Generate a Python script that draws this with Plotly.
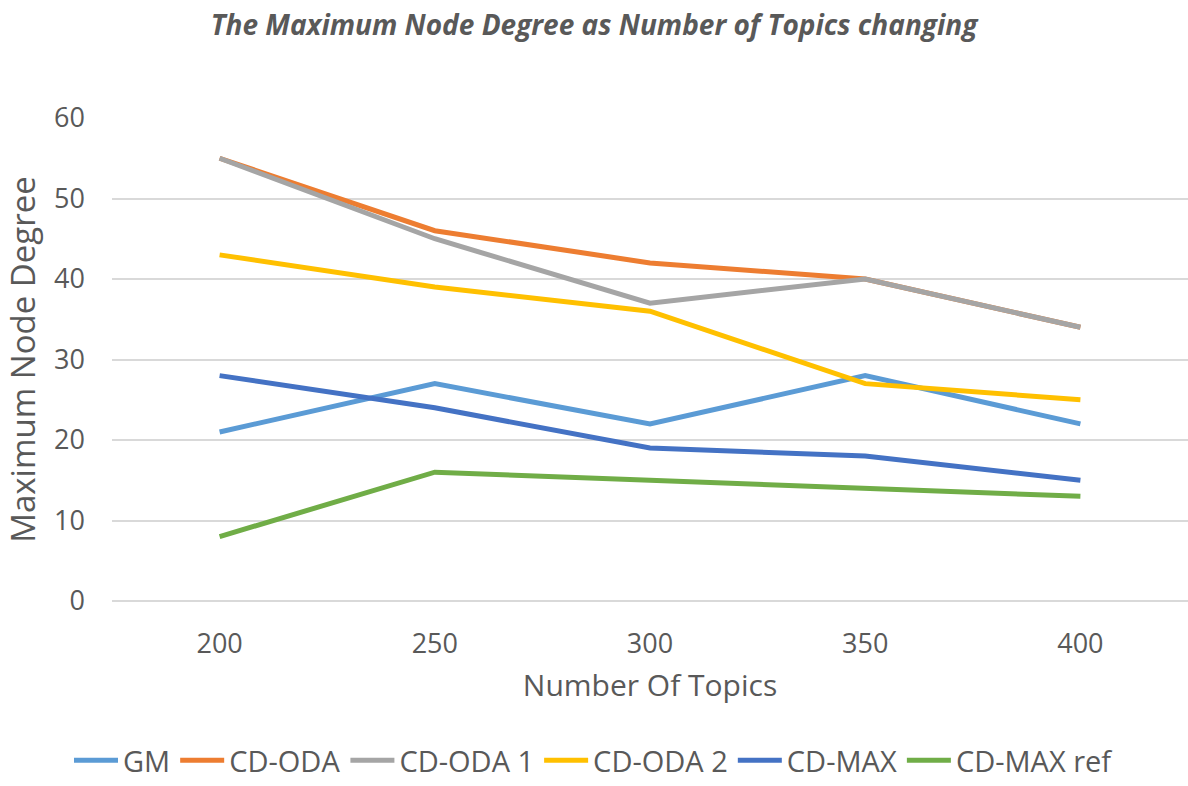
import plotly.graph_objects as go

topics = ["200", "250", "300", "350", "400"]
gm = [21, 27, 22, 28, 22]
cd_oda = [55, 46, 42, 40, 34]
cd_oda1 = [55, 45, 37, 40, 34]
cd_oda2 = [43, 39, 36, 27, 25]
cd_max = [28, 24, 19, 18, 15]
cd_max_ref = [8, 16, 15, 14, 13]

series = [
    ("GM", gm, "#5B9BD5"),
    ("CD-ODA", cd_oda, "#ED7D31"),
    ("CD-ODA 1", cd_oda1, "#A5A5A5"),
    ("CD-ODA 2", cd_oda2, "#FFC000"),
    ("CD-MAX", cd_max, "#4472C4"),
    ("CD-MAX ref", cd_max_ref, "#70AD47"),
]

fig = go.Figure()
for name, vals, color in series:
    fig.add_trace(go.Scatter(x=topics, y=vals, name=name, mode="lines",
                             line=dict(color=color, width=5)))

font_family = "Open Sans, Lato, sans-serif"
fig.update_layout(
    width=1188, height=786,
    paper_bgcolor="white", plot_bgcolor="white",
    margin=dict(l=112, r=0, t=118, b=185, autoexpand=False),
    title=dict(text="<b><i>The Maximum Node Degree as Number of Topics changing</i></b>",
               x=0.5, xref="container", xanchor="center", y=1 - 25 / 786, yanchor="middle",
               font=dict(family=font_family, size=28, color="#595959")),
    font=dict(family=font_family, color="#595959"),
    showlegend=True,
    legend=dict(orientation="h", x=0.5, xref="container", xanchor="center",
                y=0.0, yref="container", yanchor="bottom",
                font=dict(size=29, color="#595959"), itemwidth=44,
                tracegroupgap=0),
)
fig.update_xaxes(type="category", range=[-0.5, 4.5], showgrid=False,
                 showline=False, ticks="", ticklabelstandoff=24,
                 tickfont=dict(size=27, color="#595959"),
                 title=dict(text="Number Of Topics", font=dict(size=30, color="#595959"),
                            standoff=14))
fig.update_yaxes(range=[0, 60], dtick=10, showgrid=True, gridcolor="#D9D9D9",
                 gridwidth=1.5, zeroline=True, zerolinecolor="#D9D9D9",
                 zerolinewidth=1.5, showline=False, ticks="", ticklabelstandoff=26,
                 tickfont=dict(size=27, color="#595959"),
                 title=dict(text="Maximum Node Degree", font=dict(size=33, color="#595959"),
                            standoff=10))

fig.write_html("out.html", config={"displayModeBar": False},
               post_script="document.body.style.margin='0';document.body.style.overflow='hidden';")
